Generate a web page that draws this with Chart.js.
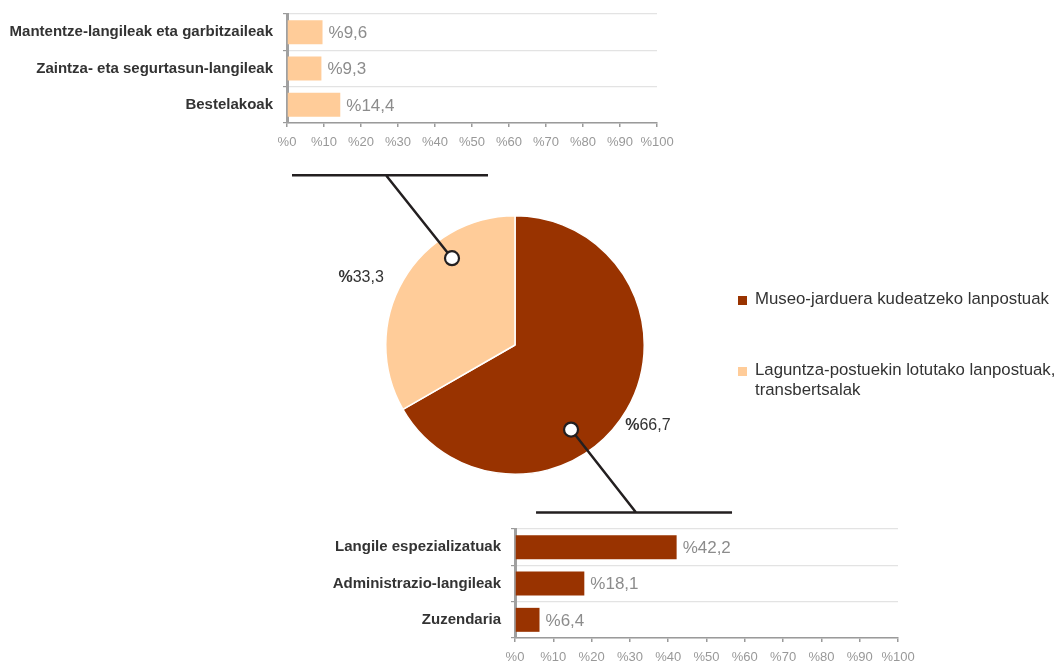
<!DOCTYPE html>
<html>
<head>
<meta charset="utf-8">
<script src="https://cdn.jsdelivr.net/npm/chart.js@4.4.1/dist/chart.umd.min.js"></script>
<style>
  body { margin: 0; background: #fff; }
  #wrap { position: relative; width: 1058px; height: 662px; overflow: hidden; font-family: "Liberation Sans", Arial, sans-serif; }
  canvas { position: absolute; }
  #pieChart { left: 0; top: 0; }
  #topChart { left: 0; top: -10px; }
  #bottomChart { left: 0; top: 490px; }
  #legend { position: absolute; left: 737px; top: 289px; width: 321px; color: #333; font-size: 16.8px; line-height: 20px; }
  #legend .item { position: relative; padding-left: 18px; width: 303px; }
  #legend .item + .item { margin-top: 51px; }
  #legend .sw { position: absolute; left: 1px; top: 7px; width: 9px; height: 9px; }
</style>
</head>
<body>
<div id="wrap">
  <canvas id="pieChart" width="1058" height="662"></canvas>
  <canvas id="topChart" width="700" height="170"></canvas>
  <canvas id="bottomChart" width="940" height="172"></canvas>
  <div id="legend"></div>
</div>
<script>
// Lanpostuen banaketa
const pieLabels = ['Museo-jarduera kudeatzeko lanpostuak', 'Laguntza-postuekin lotutako lanpostuak, transbertsalak'];
const pieValues = [66.7, 33.3];
const pieColors = ['#993300', '#FFCC99'];

// Laguntza-postuen xehetasuna (goian)
const topCategories = ['Mantentze-langileak eta garbitzaileak', 'Zaintza- eta segurtasun-langileak', 'Bestelakoak'];
const topValues = [9.6, 9.3, 14.4];

// Museo-jardueraren xehetasuna (behean)
const bottomCategories = ['Langile espezializatuak', 'Administrazio-langileak', 'Zuzendaria'];
const bottomValues = [42.2, 18.1, 6.4];

const FONT = '"Liberation Sans", Arial, sans-serif';
Chart.defaults.font.family = FONT;

function fmt(v) {
    return v.toFixed(1).replace('.', ',');
}

// Barren ondoko balio-etiketak
const valueLabels = {
    id: 'valueLabels',
    afterDatasetsDraw(chart) {
        const ctx = chart.ctx;
        const meta = chart.getDatasetMeta(0);
        ctx.save();
        ctx.font = '17px ' + FONT;
        ctx.fillStyle = '#8c8c8c';
        ctx.textBaseline = 'middle';
        meta.data.forEach((bar, i) => {
            ctx.fillText('%' + fmt(chart.data.datasets[0].data[i]), bar.x + 6, bar.y + 1);
        });
        ctx.restore();
    }
};

function makeBars(canvasId, categories, values, color, box) {
    return new Chart(document.getElementById(canvasId), {
        type: 'bar',
        data: {
            labels: categories,
            datasets: [{
                data: values,
                backgroundColor: color,
                barPercentage: 0.66,
                categoryPercentage: 1
            }]
        },
        options: {
            indexAxis: 'y',
            responsive: false,
            animation: false,
            layout: { padding: { top: box.top, right: box.right, left: 0, bottom: 0 } },
            plugins: { legend: { display: false }, tooltip: { enabled: false } },
            scales: {
                x: {
                    min: 0,
                    max: 100,
                    ticks: {
                        stepSize: 10,
                        autoSkip: false,
                        maxRotation: 0,
                        color: '#999',
                        font: { size: 13 },
                        padding: 8,
                        callback: v => '%' + v
                    },
                    grid: { drawOnChartArea: false, tickLength: 4, tickColor: '#9a9a9a', lineWidth: 1.5 },
                    border: { color: '#9a9a9a', width: 1.5 },
                    afterFit: s => { s.height = box.axisH; }
                },
                y: {
                    ticks: { color: '#333', font: { size: 15, weight: 'bold' }, padding: 10 },
                    grid: { color: '#e3e3e3', lineWidth: 1.2, tickLength: 4, tickColor: '#9a9a9a' },
                    border: { color: '#a0a0a0', width: 3 },
                    afterFit: s => { s.width = box.left; }
                }
            }
        },
        plugins: [valueLabels]
    });
}

makeBars('topChart', topCategories, topValues, pieColors[1], { left: 287, top: 24, right: 43, axisH: 37 });
makeBars('bottomChart', bottomCategories, bottomValues, pieColors[0], { left: 515, top: 39, right: 42, axisH: 24 });

// Zirkulutik barra-grafikoetara doazen lerroak eta etiketen lekuak
const leaders = [
    { frac: 0.61, r: 0.785, dx: 65, dy: 83, left: -100, right: 96, lab: [21, 16] },
    { frac: 0.70, r: 0.83, dx: -66, dy: -83, left: -94, right: 102, lab: [-42, -3] }
];

const pieExtras = {
    id: 'pieExtras',
    afterDraw(chart) {
        const ctx = chart.ctx;
        const meta = chart.getDatasetMeta(0);
        ctx.save();
        meta.data.forEach((arc, i) => {
            const p = arc.getProps(['x', 'y', 'startAngle', 'endAngle', 'outerRadius'], true);
            const L = leaders[i];
            // balio-etiketa
            const mid = (p.startAngle + p.endAngle) / 2;
            const lx = p.x + Math.cos(mid) * p.outerRadius + L.lab[0];
            const ly = p.y + Math.sin(mid) * p.outerRadius + L.lab[1];
            const num = fmt(pieValues[i]);
            ctx.font = 'bold 16px ' + FONT;
            const wPct = ctx.measureText('%').width;
            ctx.font = '16px ' + FONT;
            const wNum = ctx.measureText(num).width;
            const x0 = lx - (wPct + wNum) / 2;
            ctx.fillStyle = '#333';
            ctx.textBaseline = 'middle';
            ctx.textAlign = 'left';
            ctx.font = 'bold 16px ' + FONT;
            ctx.fillText('%', x0, ly);
            ctx.font = '16px ' + FONT;
            ctx.fillText(num, x0 + wPct, ly);

            // lerroa eta zirkulua
            const a = p.startAngle + L.frac * (p.endAngle - p.startAngle);
            const cx = p.x + Math.cos(a) * p.outerRadius * L.r;
            const cy = p.y + Math.sin(a) * p.outerRadius * L.r;
            const ex = cx + L.dx, ey = cy + L.dy;
            ctx.strokeStyle = '#231f20';
            ctx.lineWidth = 2.5;
            ctx.beginPath();
            ctx.moveTo(cx, cy);
            ctx.lineTo(ex, ey);
            ctx.moveTo(ex + L.left, ey);
            ctx.lineTo(ex + L.right, ey);
            ctx.stroke();
            ctx.beginPath();
            ctx.arc(cx, cy, 7, 0, Math.PI * 2);
            ctx.fillStyle = '#fff';
            ctx.fill();
            ctx.lineWidth = 2.2;
            ctx.stroke();
        });
        ctx.restore();
    }
};

new Chart(document.getElementById('pieChart'), {
    type: 'pie',
    data: {
        labels: pieLabels,
        datasets: [{
            data: pieValues,
            backgroundColor: pieColors,
            borderColor: '#fff',
            borderWidth: 1.5
        }]
    },
    options: {
        responsive: false,
        animation: false,
        layout: { padding: { left: 385, right: 413, top: 215, bottom: 187 } },
        plugins: { legend: { display: false }, tooltip: { enabled: false } }
    },
    plugins: [pieExtras]
});

// Legenda
const legend = document.getElementById('legend');
pieLabels.forEach((label, i) => {
    const item = document.createElement('div');
    item.className = 'item';
    const sw = document.createElement('span');
    sw.className = 'sw';
    sw.style.background = pieColors[i];
    item.appendChild(sw);
    item.appendChild(document.createTextNode(label));
    legend.appendChild(item);
});
</script>
</body>
</html>
